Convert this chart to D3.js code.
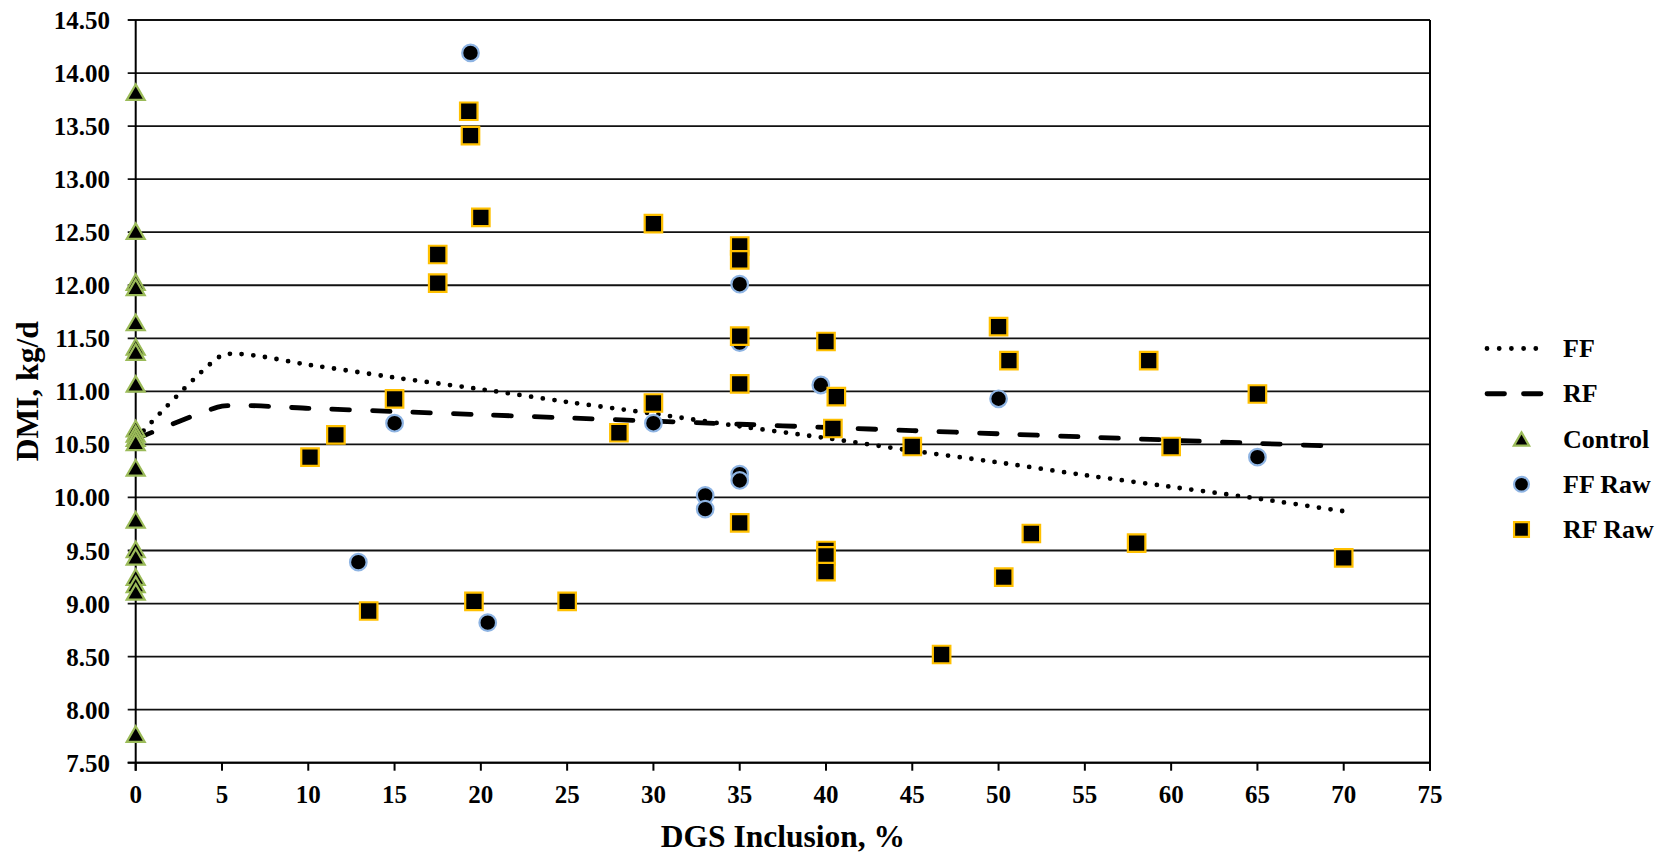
<!DOCTYPE html>
<html>
<head>
<meta charset="utf-8">
<script src="https://cdn.jsdelivr.net/npm/d3@7"></script>
<style>
  body { margin: 0; background: #fff; }
  svg text { font-family: "Liberation Serif", "Times New Roman", serif; font-weight: bold; fill: #000; }
</style>
</head>
<body>
<script>
// fitted lines (DGS inclusion, %)
var fitInclusion = [0, 5, 10, 15, 20, 25, 30, 35, 40, 45, 50, 55, 60, 65, 70];
var ffFit = [10.55, 11.34, 11.25, 11.13, 11.02, 10.90, 10.79, 10.67, 10.56, 10.44, 10.33, 10.21, 10.10, 9.99, 9.87];
var rfFit = [10.55, 10.86, 10.84, 10.81, 10.78, 10.75, 10.72, 10.69, 10.66, 10.63, 10.60, 10.57, 10.54, 10.51, 10.48];

// control diets, all at 0 % DGS
var controlInclusion = 0;
var controlDMI = [13.82, 12.51, 12.03, 11.98, 11.65, 11.42, 11.37, 11.07, 10.65, 10.60, 10.56, 10.52,
                  10.28, 9.79, 9.51, 9.44, 9.25, 9.18, 9.11, 7.77];

// raw treatment means
var ffRawInclusion = [19.4, 15, 12.9, 20.4, 30, 33, 33, 35, 35, 35, 35, 39.7, 50, 65];
var ffRawDMI = [14.19, 10.70, 9.39, 8.82, 10.70, 10.02, 9.89, 12.01, 11.46, 10.22, 10.16, 11.06, 10.93, 10.38];

var rfRawInclusion = [19.3, 19.4, 20.0, 17.5, 17.5, 30, 35, 35, 35, 35, 35, 15, 10.1, 11.6, 13.5, 19.6, 25,
                      28, 30, 40, 40.6, 40.4, 40, 40, 40, 45, 46.7, 50, 50.3, 50.6, 51.9, 58, 58.7, 60, 65, 70];
var rfRawDMI = [13.64, 13.41, 12.64, 12.29, 12.02, 12.58, 12.37, 12.24, 11.52, 11.07, 9.76, 10.93, 10.38, 10.59,
                8.93, 9.02, 9.02, 10.61, 10.89, 11.47, 10.95, 10.65, 9.50, 9.45, 9.30, 10.48, 8.52, 11.61,
                9.25, 11.29, 9.66, 9.57, 11.29, 10.48, 10.975, 9.43];

var xTickValues = [0, 5, 10, 15, 20, 25, 30, 35, 40, 45, 50, 55, 60, 65, 70, 75];
var yTickValues = [7.5, 8, 8.5, 9, 9.5, 10, 10.5, 11, 11.5, 12, 12.5, 13, 13.5, 14, 14.5];
var legendLabels = ["FF", "RF", "Control", "FF Raw", "RF Raw"];

(() => {
    var W = 1663, H = 856;
    var left = 135.7, right = 1430, top = 20, bottom = 762.7;

    var svg = d3.select("body").append("svg")
        .attr("width", W).attr("height", H);

    var x = d3.scaleLinear().domain([0, 75]).range([left, right]);
    var y = d3.scaleLinear().domain([7.5, 14.5]).range([bottom, top]);

    // gridlines + y ticks (they run past the axis a bit)
    svg.append("g").selectAll("line").data(yTickValues).enter().append("line")
        .attr("x1", left - 8).attr("x2", right)
        .attr("y1", d => y(d)).attr("y2", d => y(d))
        .attr("stroke", "#111").attr("stroke-width", 1.8);

    svg.append("g").selectAll("text").data(yTickValues).enter().append("text")
        .attr("x", 110).attr("y", d => y(d) + 9)
        .attr("text-anchor", "end").attr("font-size", 25)
        .text(d3.format(".2f"));

    // x ticks
    svg.append("g").selectAll("line").data(xTickValues).enter().append("line")
        .attr("x1", d => x(d)).attr("x2", d => x(d))
        .attr("y1", bottom).attr("y2", bottom + 8)
        .attr("stroke", "#000").attr("stroke-width", 2);

    svg.append("g").selectAll("text").data(xTickValues).enter().append("text")
        .attr("x", d => x(d)).attr("y", 803)
        .attr("text-anchor", "middle").attr("font-size", 25)
        .text(d => d);

    // frame: y axis, x axis, right edge
    svg.append("line").attr("x1", left).attr("x2", left).attr("y1", top).attr("y2", bottom + 8)
        .attr("stroke", "#000").attr("stroke-width", 2);
    svg.append("line").attr("x1", right).attr("x2", right).attr("y1", top).attr("y2", bottom + 8)
        .attr("stroke", "#000").attr("stroke-width", 2);
    svg.append("line").attr("x1", left - 8).attr("x2", right).attr("y1", bottom).attr("y2", bottom)
        .attr("stroke", "#000").attr("stroke-width", 2);

    // axis titles
    svg.append("text").attr("x", (left + right) / 2).attr("y", 847)
        .attr("text-anchor", "middle").attr("font-size", 31.5)
        .text("DGS Inclusion, %");
    svg.append("text")
        .attr("transform", "translate(" + [38, (top + bottom) / 2] + ")rotate(-90)")
        .attr("text-anchor", "middle").attr("font-size", 31.5)
        .text("DMI, kg/d");

    // excel-like smoothing
    var line = d3.line().curve(d3.curveCardinal.tension(0.5))
        .x(d => x(d[0])).y(d => y(d[1]));

    var dotStyle = { dash: "0 11.7", width: 4.8 },
        dashStyle = { dash: "17.5 23", width: 4.8 };

    svg.append("path").datum(d3.zip(fitInclusion, ffFit))
        .attr("d", line).attr("fill", "none").attr("stroke", "#000")
        .attr("stroke-width", dotStyle.width).attr("stroke-linecap", "round")
        .attr("stroke-dasharray", dotStyle.dash);

    svg.append("path").datum(d3.zip(fitInclusion, rfFit))
        .attr("d", line).attr("fill", "none").attr("stroke", "#000")
        .attr("stroke-width", dashStyle.width).attr("stroke-linecap", "round")
        .attr("stroke-dasharray", dashStyle.dash);

    // marker shapes
    var tri = s => "M0," + (-7.8 * s) + "L" + (9 * s) + "," + (7.8 * s) + "L" + (-9 * s) + "," + (7.8 * s) + "Z";
    var sq = s => { var h = 8.75 * s; return "M" + -h + "," + -h + "H" + h + "V" + h + "H" + -h + "Z"; };
    var circ = s => d3.symbol(d3.symbolCircle, Math.PI * Math.pow(8.3 * s, 2))();

    var series = [
        { pts: controlDMI.map(v => [controlInclusion, v]), path: tri(1), stroke: "#9BBB59" },
        { pts: d3.zip(ffRawInclusion, ffRawDMI), path: circ(1), stroke: "#8EB4E3" },
        { pts: d3.zip(rfRawInclusion, rfRawDMI), path: sq(1), stroke: "#FFC000" }
    ];

    series.forEach(s => {
        svg.append("g").selectAll("path").data(s.pts).enter().append("path")
            .attr("transform", d => "translate(" + [x(d[0]), y(d[1])] + ")")
            .attr("d", s.path)
            .attr("fill", "#000").attr("stroke", s.stroke).attr("stroke-width", 2.2);
    });

    // legend
    var lg = svg.append("g");
    var ly = d3.scalePoint().domain(legendLabels).range([348.5, 529.5]);

    lg.selectAll("text").data(legendLabels).enter().append("text")
        .attr("x", 1563).attr("y", d => ly(d) + 8.5)
        .attr("font-size", 26).text(d => d);

    [dotStyle, dashStyle].forEach((st, i) => {
        lg.append("line").attr("x1", 1487).attr("x2", i ? 1546 : 1548)
            .attr("y1", ly(legendLabels[i])).attr("y2", ly(legendLabels[i]))
            .attr("stroke", "#000").attr("stroke-width", st.width)
            .attr("stroke-linecap", "round").attr("stroke-dasharray", i ? "17.5 19" : "0 12.2");
    });

    var legendMarks = [tri(0.85), circ(0.9), sq(0.85)];
    series.forEach((s, i) => {
        lg.append("path")
            .attr("transform", "translate(" + [1521.5, ly(legendLabels[i + 2])] + ")")
            .attr("d", legendMarks[i])
            .attr("fill", "#000").attr("stroke", s.stroke).attr("stroke-width", 2.2);
    });
})();
</script>
</body>
</html>
